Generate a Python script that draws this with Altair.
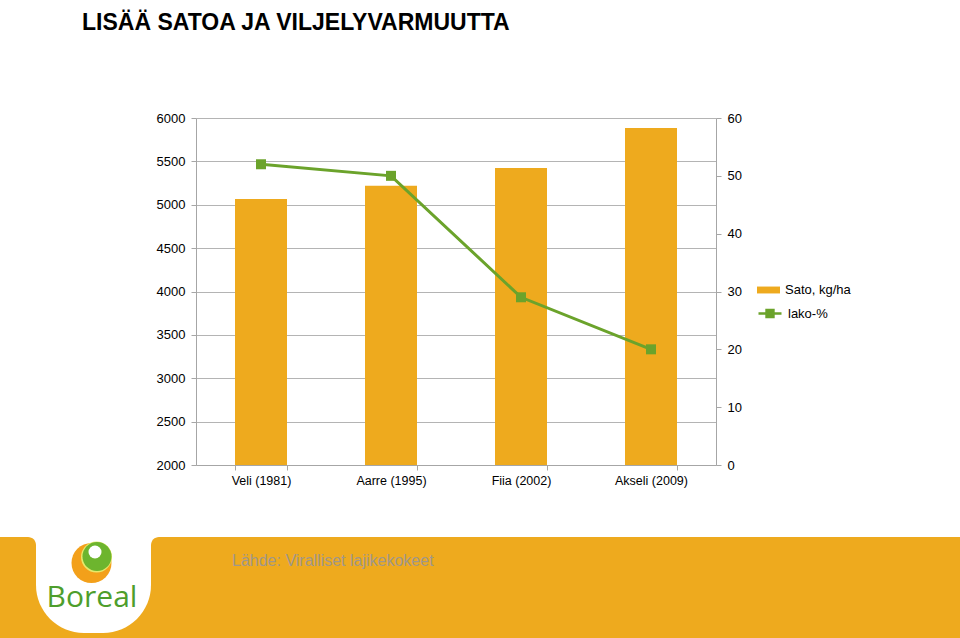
import altair as alt
import pandas as pd

# ---- data ----
categories = ["Veli (1981)", "Aarre (1995)", "Fiia (2002)", "Akseli (2009)"]
sato = [5065, 5220, 5425, 5885]          # Sato, kg/ha (left axis)
lako = [52, 50, 29, 20]                  # lako-% (right axis)
left_ticks = [2000, 2500, 3000, 3500, 4000, 4500, 5000, 5500, 6000]
right_ticks = [0, 10, 20, 30, 40, 50, 60]
series_bar = "Sato, kg/ha"
series_line = "lako-%"
title_text = "LISÄÄ SATOA JA VILJELYVARMUUTTA"
source_text = "Lähde: Viralliset lajikekokeet"
logo_text = "Boreal"

ORANGE = "#EEAA1E"
GREEN = "#6BA32B"
LOGO_GREEN = "#4E9E2C"
AXIS_GREY = "#A6A6A6"
GRID_GREY = "#B4B4B4"
FONT = "Liberation Sans"

# plot origin in the page (used only for the decorative banner/title)
OX, OY = 196, 118

df = pd.DataFrame({"lajike": categories, "sato": sato, "lako": lako,
                   "s1": series_bar, "s2": series_line})
one = pd.DataFrame({"k": [0]})

x_enc = alt.X("lajike:N", sort=categories,
              scale=alt.Scale(paddingInner=0.6, paddingOuter=0.3),
              axis=alt.Axis(title=None, tickBand="extent", labelAngle=0,
                            labelFontSize=12.5, labelFont=FONT, labelColor="black",
                            labelPadding=4, tickSize=5, tickColor=AXIS_GREY,
                            domainColor=AXIS_GREY))

bars = alt.Chart(df).mark_bar(color=ORANGE).encode(
    x=x_enc,
    y=alt.Y("sato:Q", scale=alt.Scale(domain=[2000, 6000], nice=False, zero=False),
            axis=alt.Axis(title=None, values=left_ticks, format="d", grid=True,
                          gridColor=GRID_GREY,
                          labelFontSize=13, labelFont=FONT, labelColor="black",
                          tickSize=5, tickColor=AXIS_GREY, domainColor=AXIS_GREY,
                          labelPadding=6)),
    y2=alt.datum(2000),
    color=alt.Color("s1:N", scale=alt.Scale(range=[ORANGE]),
                    legend=alt.Legend(title=None, orient="none", legendX=561, legendY=160.5,
                                      symbolType="M-1,-0.3H1V0.3H-1Z", symbolSize=529,
                                      symbolStrokeWidth=0, labelFontSize=13, labelFont=FONT,
                                      labelColor="black", labelOffset=5, padding=0)),
)

y_right = alt.Y("lako:Q", scale=alt.Scale(domain=[0, 60], nice=False),
                axis=alt.Axis(title=None, orient="right", values=right_ticks, format="d",
                              grid=False,
                              labelFontSize=13, labelFont=FONT, labelColor="black",
                              tickSize=5, tickColor=AXIS_GREY, domainColor=AXIS_GREY,
                              labelPadding=6))

line = alt.Chart(df).mark_line(color=GREEN, strokeWidth=3).encode(x=x_enc, y=y_right)
points = alt.Chart(df).mark_point(shape="square", filled=True, size=100, opacity=1).encode(
    x=x_enc, y=y_right,
    color=alt.Color("s2:N", scale=alt.Scale(range=[GREEN]),
                    legend=alt.Legend(title=None, orient="none", legendX=561, legendY=182.5,
                                      symbolType="M-1,0H1M-0.3,-0.3H0.3V0.3H-0.3Z",
                                      symbolSize=529, symbolStrokeColor=GREEN,
                                      symbolFillColor=GREEN, symbolStrokeWidth=2.5,
                                      labelFontSize=13, labelFont=FONT, labelColor="black",
                                      labelOffset=5, padding=0)),
)
line_layer = alt.layer(line, points)


def rect(x0, x1, y0, y1, color, **kw):
    return alt.Chart(one).mark_rect(color=color, **kw).encode(
        x=alt.value(x0 - OX), x2=alt.value(x1 - OX),
        y=alt.value(y0 - OY), y2=alt.value(y1 - OY))


def dot(cx, cy, d, color):
    return alt.Chart(one).mark_circle(color=color, opacity=1, size=d * d).encode(
        x=alt.value(cx - OX), y=alt.value(cy - OY))


band_left = rect(0, 36, 537, 638, ORANGE, cornerRadiusTopRight=8)
band_right = rect(151, 960, 537, 638, ORANGE, cornerRadiusTopLeft=8)
band_mid = rect(30, 157, 548, 638, ORANGE)
tab = rect(36, 151, 537, 633, "white", cornerRadiusBottomLeft=52, cornerRadiusBottomRight=52)
orb1 = dot(91.5, 563, 40, "#F3A01A")
orb_ring = dot(96.5, 557, 31, "#E6E86A")
orb2 = dot(97, 556.5, 29, "#6DB52E")
orb3 = dot(95, 552, 13, "white")
logo = alt.Chart(one).mark_text(font="Open Sans", fontSize=30, color=LOGO_GREEN,
                                align="center", baseline="alphabetic").encode(
    x=alt.value(92 - OX), y=alt.value(607 - OY), text=alt.value(logo_text))
source = alt.Chart(one).mark_text(font=FONT, fontSize=16, color="#A0978A",
                                  align="left", baseline="alphabetic").encode(
    x=alt.value(232 - OX), y=alt.value(566 - OY), text=alt.value(source_text))
title = alt.Chart(one).mark_text(font=FONT, fontSize=23, fontWeight="bold", color="black",
                                 align="left", baseline="alphabetic").encode(
    x=alt.value(82 - OX), y=alt.value(30 - OY), text=alt.value(title_text))

chart = alt.layer(
    band_left, band_right, band_mid, tab, orb1, orb_ring, orb2, orb3, logo, source, title,
    bars, line_layer,
).resolve_scale(y="independent", color="independent").resolve_legend(
    color="independent"
).properties(
    width=520, height=347,
    padding={"left": OX, "top": OY, "right": 960 - OX - 520, "bottom": 638 - OY - 347},
    autosize=alt.AutoSizeParams(type="none"),
    background="white",
).configure_view(stroke=None)

chart.save("out.html", embed_options={"renderer": "svg", "actions": False})
